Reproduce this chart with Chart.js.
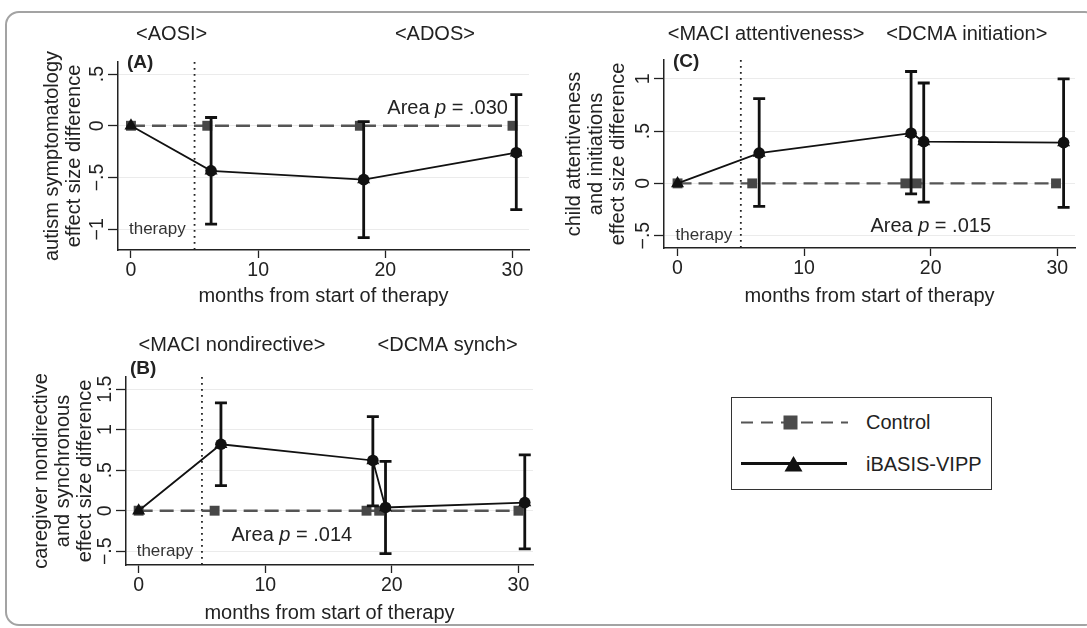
<!DOCTYPE html>
<html>
<head>
<meta charset="utf-8">
<title>iBASIS-VIPP effect size differences</title>
<script src="https://cdn.jsdelivr.net/npm/chart.js@4.4.1/dist/chart.umd.min.js"></script>
<style>
  html, body { margin: 0; padding: 0; background: #fff; }
  body { width: 1087px; height: 628px; position: relative; overflow: hidden; font-family: "Liberation Sans", Arial, sans-serif; color: #222; }
  .frame { position: absolute; left: 5px; top: 11px; width: 1090px; height: 611px; border: 2.5px solid #a3a3a3; border-radius: 14px; }
  canvas { position: absolute; }
  #panelA { left: 0; top: 0; }
  #panelC { left: 545px; top: 0; }
  #panelB { left: 0; top: 318px; }
  .legend { position: absolute; left: 731px; top: 397px; width: 259px; height: 91px; border: 1.5px solid #333; }
  .legend svg { position: absolute; left: 0; top: 0; }
  .legend span { position: absolute; left: 134px; font-size: 20px; line-height: 20px; }
</style>
</head>
<body>
<div class="frame"></div>
<canvas id="panelA" width="545" height="312"></canvas>
<canvas id="panelC" width="542" height="312"></canvas>
<canvas id="panelB" width="545" height="310"></canvas>
<div class="legend">
  <svg width="130" height="91">
    <line x1="9" y1="24.5" x2="116" y2="24.5" stroke="#555" stroke-width="2.2" stroke-dasharray="12,8"/>
    <rect x="51.5" y="17.5" width="14" height="14" fill="#4b4b4b"/>
    <line x1="9" y1="65.5" x2="115" y2="65.5" stroke="#111" stroke-width="2.8"/>
    <polygon points="61.5,58 70.5,73.5 52.5,73.5" fill="#111"/>
  </svg>
  <span id="legControl" style="top:14px"></span>
  <span id="legVipp" style="top:56px"></span>
</div>

<script>
const FAMILY = '"Liberation Sans", Arial, sans-serif';
Chart.defaults.font.family = FAMILY;

const seriesNames = ['Control', 'iBASIS-VIPP'];
const xTickValues = [0, 10, 20, 30];
const xTitle = 'months from start of therapy';
const therapyEnd = 5;

// (A) autism symptomatology
const monthsControlA = [0, 6, 18, 30];
const controlA = [0, 0, 0, 0];
const monthsVippA = [0, 6.3, 18.3, 30.3];
const vippA = [0, -0.435, -0.52, -0.26];
const lowerA = [null, -0.95, -1.08, -0.81];
const upperA = [null, 0.08, 0.04, 0.30];
const yTicksA = [-1, -0.5, 0, 0.5];

// (B) caregiver nondirective and synchronous
const monthsControlB = [0, 6, 18, 19, 30];
const controlB = [0, 0, 0, 0, 0];
const monthsVippB = [0, 6.5, 18.5, 19.5, 30.5];
const vippB = [0, 0.82, 0.62, 0.04, 0.10];
const lowerB = [null, 0.31, 0.06, -0.53, -0.47];
const upperB = [null, 1.33, 1.16, 0.61, 0.69];
const yTicksB = [-0.5, 0, 0.5, 1, 1.5];

// (C) child attentiveness and initiations
const monthsControlC = [0, 5.9, 18, 18.9, 29.9];
const controlC = [0, 0, 0, 0, 0];
const monthsVippC = [0, 6.45, 18.45, 19.45, 30.5];
const vippC = [0, 0.29, 0.48, 0.40, 0.39];
const lowerC = [null, -0.22, -0.10, -0.18, -0.23];
const upperC = [null, 0.81, 1.07, 0.96, 1.00];
const yTicksC = [-0.5, 0, 0.5, 1];

document.getElementById('legControl').textContent = seriesNames[0];
document.getElementById('legVipp').textContent = seriesNames[1];

function pts(xs, ys) {
  return xs.map((x, i) => ({ x: x, y: ys[i] }));
}

// stata style: .5, −.5, −1
function fmtTick(v) {
  const s = String(Math.abs(v)).replace(/^0\./, '.');
  return v < 0 ? '\u2212' + s : s;
}

function drawAreaP(ctx, cx, cy, value) {
  const reg = '20px ' + FAMILY;
  const ital = 'italic 20px ' + FAMILY;
  const a = 'Area ', b = 'p', c = ' = ' + value;
  ctx.font = reg;
  const wa = ctx.measureText(a).width, wc = ctx.measureText(c).width;
  ctx.font = ital;
  const wb = ctx.measureText(b).width;
  const x0 = cx - (wa + wb + wc) / 2;
  ctx.textAlign = 'left';
  ctx.font = reg; ctx.fillText(a, x0, cy);
  ctx.font = ital; ctx.fillText(b, x0 + wa, cy);
  ctx.font = reg; ctx.fillText(c, x0 + wa + wb, cy);
}

function decor(p) {
  return {
    id: 'decor' + p.letter,
    beforeDatasetsDraw(chart) {
      const { ctx, chartArea } = chart;
      const px = chart.scales.x.getPixelForValue(therapyEnd);
      ctx.save();
      ctx.strokeStyle = '#222';
      ctx.lineWidth = 1.8;
      ctx.setLineDash([1.8, 4.2]);
      ctx.beginPath();
      ctx.moveTo(px, chartArea.top);
      ctx.lineTo(px, chartArea.bottom);
      ctx.stroke();
      ctx.restore();
    },
    afterDatasetDraw(chart, args) {
      if (args.index !== 2) return; // right after the control series
      const { ctx } = chart;
      const { x, y } = chart.scales;
      ctx.save();
      ctx.strokeStyle = '#111';
      ctx.lineWidth = 2.8;
      ctx.setLineDash([]);
      p.monthsVipp.forEach((m, i) => {
        if (p.lower[i] == null) return;
        const px = x.getPixelForValue(m);
        const lo = y.getPixelForValue(p.lower[i]);
        const hi = y.getPixelForValue(p.upper[i]);
        ctx.beginPath();
        ctx.moveTo(px, lo); ctx.lineTo(px, hi);
        ctx.moveTo(px - 6, lo); ctx.lineTo(px + 6, lo);
        ctx.moveTo(px - 6, hi); ctx.lineTo(px + 6, hi);
        ctx.stroke();
      });
      ctx.restore();
    },
    afterDraw(chart) {
      const { ctx, chartArea } = chart;
      const { x, y } = chart.scales;
      ctx.save();
      ctx.fillStyle = '#222';
      ctx.textBaseline = 'middle';
      ctx.font = '20px ' + FAMILY;
      ctx.textAlign = 'center';
      p.headers.forEach((h, i) => {
        ctx.fillText(h, x.getPixelForValue(p.headerX[i]), chartArea.top - p.headerGap);
      });
      ctx.textAlign = 'left';
      ctx.font = 'bold 19px ' + FAMILY;
      ctx.fillText('(' + p.letter + ')', chartArea.left + p.letterDx, chartArea.top + p.letterDy);
      ctx.font = '17px ' + FAMILY;
      ctx.fillStyle = '#333';
      ctx.fillText('therapy', x.getPixelForValue(0) - 2, y.getPixelForValue(p.yTicks[0]));
      ctx.fillStyle = '#222';
      drawAreaP(ctx, x.getPixelForValue(p.areaX), y.getPixelForValue(p.areaY), p.areaP);
      ctx.restore();
    }
  };
}

function makePanel(p) {
  return new Chart(document.getElementById(p.canvas), {
    type: 'scatter',
    data: {
      datasets: [
        {
          label: seriesNames[1] + ' estimates',
          data: pts(p.monthsVipp.slice(1), p.vipp.slice(1)),
          showLine: false,
          pointStyle: 'circle', pointRadius: 5.8,
          pointBackgroundColor: '#111', pointBorderColor: '#111', pointBorderWidth: 0
        },
        {
          label: seriesNames[1],
          data: pts(p.monthsVipp, p.vipp),
          showLine: true, borderColor: '#111', borderWidth: 1.8,
          pointStyle: 'triangle', pointRadius: 7.5,
          pointBackgroundColor: '#111', pointBorderColor: '#111', pointBorderWidth: 0
        },
        {
          label: seriesNames[0],
          data: pts(p.monthsControl, p.control),
          showLine: true, borderColor: '#555', borderWidth: 2.4, borderDash: [14, 7],
          pointStyle: 'rect', pointRadius: 7,
          pointBackgroundColor: '#474747', pointBorderColor: '#474747', pointBorderWidth: 0
        }
      ]
    },
    options: {
      responsive: false,
      animation: false,
      events: [],
      layout: { padding: p.pad },
      plugins: { legend: { display: false }, tooltip: { enabled: false } },
      scales: {
        x: {
          type: 'linear', min: p.xMin, max: p.xMax,
          afterBuildTicks: s => { s.ticks = xTickValues.map(v => ({ value: v })); },
          afterFit: s => { s.height = p.xAxisHeight; },
          border: { color: '#222', width: 1.5 },
          grid: { drawOnChartArea: false, tickColor: '#222', tickLength: 8, tickWidth: 1.3 },
          ticks: { minRotation: 0, maxRotation: 0, padding: 1, color: '#222', font: { size: 19.5 } },
          title: { display: true, text: xTitle, color: '#222', font: { size: 20 }, padding: { top: 0, bottom: 1 } }
        },
        y: {
          type: 'linear', min: p.yMin, max: p.yMax,
          afterBuildTicks: s => { s.ticks = p.yTicks.map(v => ({ value: v })); },
          afterFit: s => { s.width = p.yAxisWidth; },
          border: { color: '#222', width: 1.5 },
          grid: { color: '#ebebeb', lineWidth: 1, tickColor: '#222', tickLength: 10, tickWidth: 1.3 },
          ticks: {
            minRotation: 90, maxRotation: 90, crossAlign: 'center', padding: -3,
            color: '#222', font: { size: 19.5 }, callback: v => fmtTick(v)
          },
          title: { display: true, text: p.yTitle, color: '#222', font: { size: 20, lineHeight: 1.1 }, padding: 0 }
        }
      }
    },
    plugins: [decor(p)]
  });
}

makePanel({
  canvas: 'panelA', letter: 'A',
  monthsControl: monthsControlA, control: controlA,
  monthsVipp: monthsVippA, vipp: vippA, lower: lowerA, upper: upperA,
  yTicks: yTicksA, yMin: -1.2, yMax: 0.616, xMin: -1.02, xMax: 31.3,
  pad: { left: 41, top: 62, right: 16, bottom: 3 }, yAxisWidth: 77, xAxisHeight: 59,
  yTitle: ['autism symptomatology', 'effect size difference'],
  headers: ['<AOSI>', '<ADOS>'], headerX: [3.2, 23.9], headerGap: 28,
  letterDx: 9, letterDy: 1,
  areaP: '.030', areaX: 24.9, areaY: 0.17
});

makePanel({
  canvas: 'panelC', letter: 'C',
  monthsControl: monthsControlC, control: controlC,
  monthsVipp: monthsVippC, vipp: vippC, lower: lowerC, upper: upperC,
  yTicks: yTicksC, yMin: -0.618, yMax: 1.18, xMin: -1.07, xMax: 31.4,
  pad: { left: 18, top: 60, right: 12, bottom: 3 }, yAxisWidth: 101, xAxisHeight: 61,
  yTitle: ['child attentiveness', 'and initiations', 'effect size difference'],
  headers: ['<MACI attentiveness>', '<DCMA initiation>'], headerX: [7.0, 22.85], headerGap: 26,
  letterDx: 9, letterDy: 2,
  areaP: '.015', areaX: 20.0, areaY: -0.41
});

makePanel({
  canvas: 'panelB', letter: 'B',
  monthsControl: monthsControlB, control: controlB,
  monthsVipp: monthsVippB, vipp: vippB, lower: lowerB, upper: upperB,
  yTicks: yTicksB, yMin: -0.67, yMax: 1.65, xMin: -1.0, xMax: 31.15,
  pad: { left: 30, top: 59, right: 12, bottom: 2 }, yAxisWidth: 96, xAxisHeight: 61,
  yTitle: ['caregiver nondirective', 'and synchronous', 'effect size difference'],
  headers: ['<MACI nondirective>', '<DCMA synch>'], headerX: [7.37, 24.4], headerGap: 32,
  letterDx: 4, letterDy: -8,
  areaP: '.014', areaX: 12.1, areaY: -0.30
});
</script>
</body>
</html>
